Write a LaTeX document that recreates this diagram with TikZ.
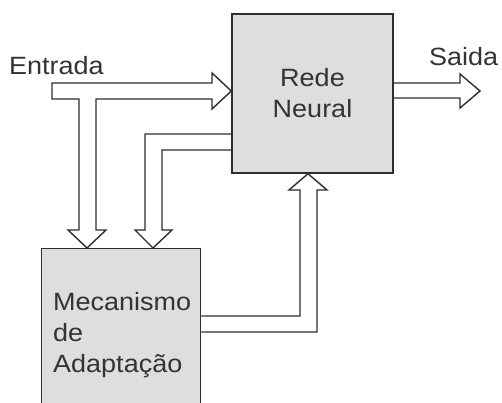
\documentclass[tikz,border=0pt]{standalone}
\usepackage{fontspec}
\setmainfont{Liberation Sans}[FakeStretch=1.08]
\usetikzlibrary{backgrounds}
\begin{document}
\begin{tikzpicture}[x=1pt,y=-1pt,
  block/.style={draw=black!82, line width=1.4pt, fill=black!13, inner sep=0pt},
  hollow/.style={draw=black!82, line width=1.4pt, fill=white, line join=miter},
  txt/.style={font=\fontsize{25}{31}\selectfont, text=black!80, inner sep=0pt}]
\clip (0,0) rectangle (502,403);

% blocks
\node[block, txt, align=center, minimum width=161pt, minimum height=159pt] (rn) at (312.5,93.5) {Rede\\Neural};
\node[block, anchor=north west, minimum width=159pt, minimum height=180pt] (ma) at (41,248) {};
\node[txt, align=left, anchor=north west] (matext) at (53,292) {Mecanismo\\de\\Adapta\c{c}\~ao};

% labels
\node[txt, anchor=base west] (entrada) at (9,75) {Entrada};
\node[txt, anchor=base west] (saida) at (429,66) {Saida};
\coordinate (ein) at (52,91);
\coordinate (sout) at (480,91);

\begin{scope}[on background layer]
\fill[white] (0,0) rectangle (502,403);
% input: to the network and to the adaptation block
\draw[hollow] (ein |- 0,83) -- (212,83) -- (212,73) -- (rn.west |- 0,91) -- (212,109) -- (212,99)
  -- (96,99) -- (96,230) -- (106,230) -- (87,0 |- ma.north) -- (68,230) -- (79,230) -- (79,99)
  -- (ein |- 0,99) -- cycle;
% network state back to the adaptation block
\draw[hollow] (rn.west |- 0,134) -- (145,134) -- (145,230) -- (135,230) -- (153,0 |- ma.north)
  -- (172,230) -- (162,230) -- (162,150) -- (rn.west |- 0,150);
% adaptation back to the network
\draw[hollow] (ma.east |- 0,316) -- (300,316) -- (300,190) -- (289,190) -- (308,0 |- rn.south)
  -- (327,190) -- (317,190) -- (317,332) -- (ma.east |- 0,332);
% output
\draw[hollow] (rn.east |- 0,83) -- (460,83) -- (460,74) -- (sout) -- (460,108) -- (460,98)
  -- (rn.east |- 0,98);
\end{scope}
\end{tikzpicture}
\end{document}
